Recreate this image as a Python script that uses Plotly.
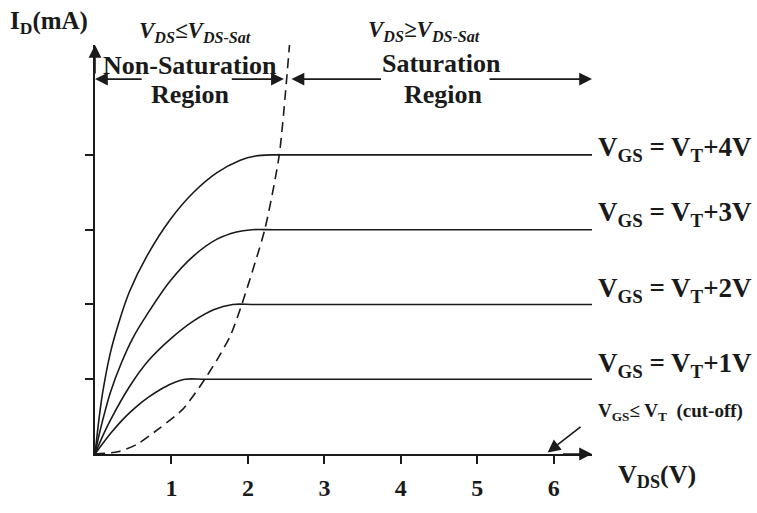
import plotly.graph_objects as go

# ---- data (V_DS in volts, I_D in mA, arbitrary units) ----
vgs4_vds = [0, 0.05, 0.1, 0.2, 0.3, 0.45, 0.68, 0.98, 1.29, 1.59, 1.9, 2.1, 2.3, 2.6, 6.5]
vgs4_id = [0, 0.45, 0.82, 1.35, 1.72, 2.17, 2.65, 3.13, 3.5, 3.76, 3.93, 3.985, 4.0, 4.0, 4.0]

vgs3_vds = [0, 0.05, 0.1, 0.2, 0.35, 0.5, 0.69, 0.98, 1.29, 1.59, 1.85, 2.05, 2.35, 6.5]
vgs3_id = [0, 0.24, 0.45, 0.82, 1.23, 1.56, 1.88, 2.31, 2.65, 2.87, 2.97, 3.0, 3.0, 3.0]

vgs2_vds = [0, 0.1, 0.2, 0.45, 0.7, 1.0, 1.29, 1.55, 1.8, 2.1, 6.5]
vgs2_id = [0, 0.24, 0.45, 0.9, 1.25, 1.55, 1.78, 1.93, 2.0, 2.0, 2.0]

vgs1_vds = [0, 0.2, 0.4, 0.55, 0.7, 0.85, 1.0, 1.18, 1.45, 6.5]
vgs1_id = [0, 0.27, 0.5, 0.64, 0.76, 0.86, 0.94, 1.0, 1.0, 1.0]

sat_vds = [0, 0.3, 0.55, 0.85, 1.15, 1.37, 1.59, 1.77, 1.92, 2.22, 2.41, 2.55]
sat_id = [0, 0.03, 0.13, 0.35, 0.6, 0.9, 1.25, 1.58, 2.0, 3.0, 4.0, 5.55]

x_ticks = [1, 2, 3, 4, 5, 6]
x_ticklabels = ["1", "2", "3", "4", "5", "6"]
y_ticks = [1, 2, 3, 4]

curve_labels = [
    "V<sub>GS</sub> = V<sub>T</sub>+4V",
    "V<sub>GS</sub> = V<sub>T</sub>+3V",
    "V<sub>GS</sub> = V<sub>T</sub>+2V",
    "V<sub>GS</sub> = V<sub>T</sub>+1V",
]

# ---- layout geometry ----
W, H = 757, 513
L, R, T, B = 95, 165, 45, 42
XMAX, YMAX = 6.5, 5.47
SERIF = "Liberation Serif"
INK = "#1a1a1a"
YSCALE = (H - T - B) / YMAX


def px(xp):
    return (xp - L) / (W - L - R)


def py(yp):
    return (H - B - yp) / (H - T - B)


fig = go.Figure()
line_style = dict(color=INK, width=1.6, shape="spline", smoothing=0.8)
for xs, ys in [(vgs4_vds, vgs4_id), (vgs3_vds, vgs3_id), (vgs2_vds, vgs2_id), (vgs1_vds, vgs1_id)]:
    fig.add_trace(go.Scatter(x=xs, y=ys, mode="lines", line=line_style, showlegend=False, hoverinfo="skip"))

fig.add_trace(go.Scatter(x=sat_vds, y=sat_id, mode="lines",
                         line=dict(color=INK, width=1.6, dash="10px,6px", shape="spline", smoothing=0.6),
                         showlegend=False, hoverinfo="skip"))

ann = []


def arrow(x0, y0, x1, y1):
    ann.append(dict(x=x1, y=y1, ax=x0, ay=y0, xref="x", yref="y", axref="x", ayref="y",
                    text="", showarrow=True, arrowhead=2, arrowsize=1.6, arrowwidth=1.6,
                    arrowcolor=INK, standoff=0))


# axis arrows
arrow(0, YMAX - 0.4, 0, YMAX)
arrow(XMAX - 0.4, 0, XMAX, 0)
# region arrows
ry = (H - B - 80.5) / YSCALE
arrow(0.63, ry, 0.0, ry)
arrow(1.77, ry, 2.47, ry)
arrow(3.76, ry, 2.57, ry)
arrow(5.14, ry, 6.5, ry)
# cut-off arrow
arrow(6.37, 0.38, 5.92, 0.02)


def text(t, xp, yp, size, anchor="center", bold=True, italic=False):
    s = t
    if italic:
        s = "<i>" + s + "</i>"
    if bold:
        s = "<b>" + s + "</b>"
    ann.append(dict(x=px(xp), y=py(yp), xref="paper", yref="paper", text=s, showarrow=False,
                    xanchor=anchor, yanchor="middle",
                    font=dict(family=SERIF, size=size, color=INK)))


text("I<sub>D</sub>(mA)", 49, 22, 25)
text("V<sub>DS</sub>≤V<sub>DS-Sat</sub>", 195, 31, 23, bold=True, italic=True)
text("V<sub>DS</sub>≥V<sub>DS-Sat</sub>", 424, 30, 23, bold=True, italic=True)
text("Non-Saturation", 190, 66, 26)
text("Region", 190, 97, 26)
text("Saturation", 441, 64, 26)
text("Region", 443, 97, 26)
for lbl, yp in zip(curve_labels, [153, 221, 300, 378]):
    text(lbl, 596, yp, 27, anchor="left")
text("V<sub>GS</sub>≤ V<sub>T</sub>  (cut-off)", 596, 427, 19, anchor="left")
text("V<sub>DS</sub>(V)", 616, 494, 26, anchor="left")

fig.update_layout(
    width=W, height=H,
    margin=dict(l=L, r=R, t=T, b=B, pad=0),
    paper_bgcolor="white", plot_bgcolor="white",
    annotations=ann,
    xaxis=dict(range=[0, XMAX], showgrid=False, zeroline=False, showline=True, linecolor=INK, linewidth=2,
               ticks="outside", ticklen=8, tickwidth=1.6, tickcolor=INK,
               tickvals=x_ticks, ticktext=x_ticklabels, ticklabelstandoff=3,
               tickfont=dict(family=SERIF, size=24, color=INK, weight="bold")),
    yaxis=dict(range=[0, YMAX], showgrid=False, zeroline=False, showline=True, linecolor=INK, linewidth=2,
               ticks="outside", ticklen=8, tickwidth=1.6, tickcolor=INK,
               tickvals=y_ticks, showticklabels=False),
)

fig.write_html("out.html", config={"displayModeBar": False},
               post_script="document.body.style.margin='0px';")
